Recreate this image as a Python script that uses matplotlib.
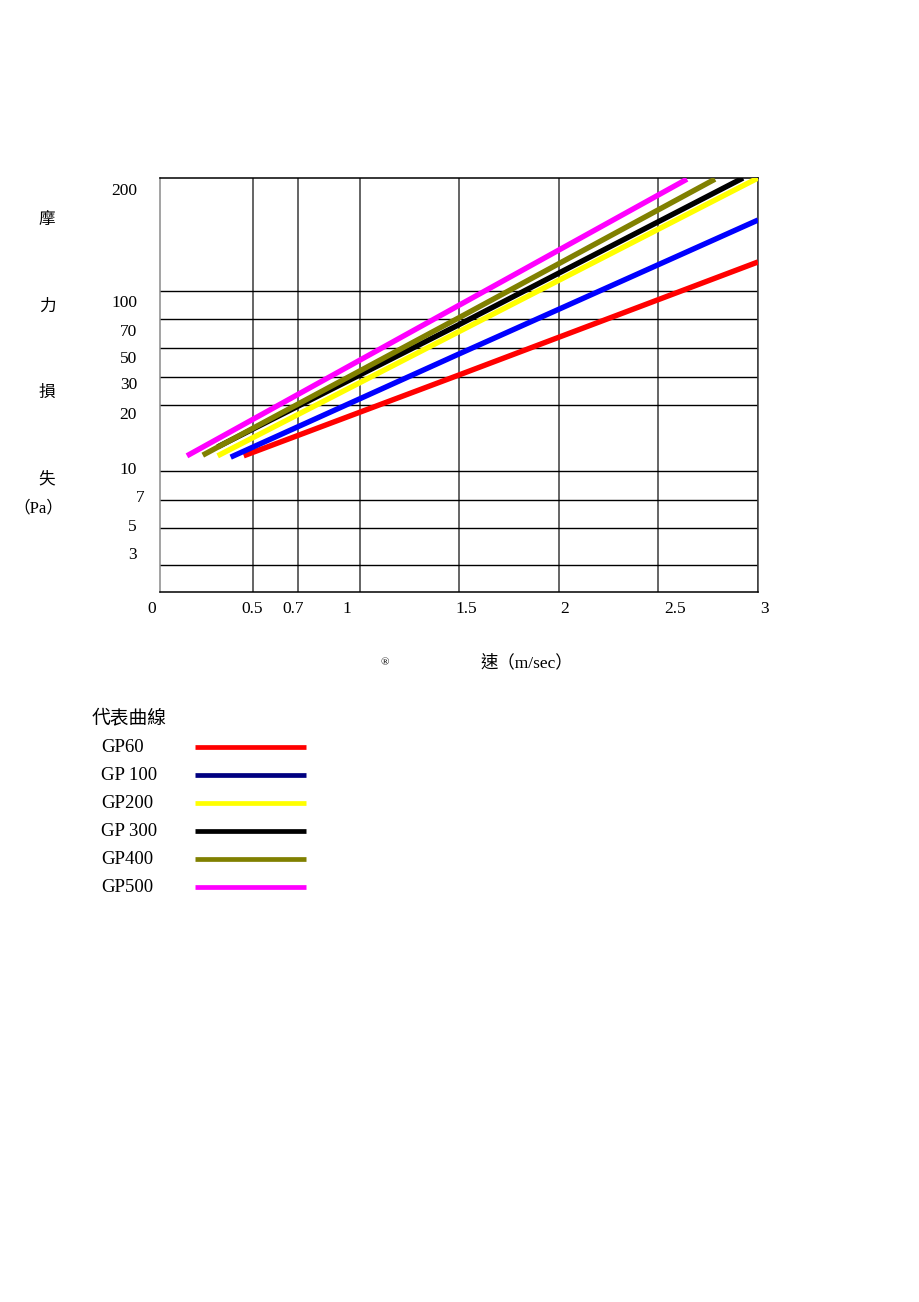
import numpy as np
import matplotlib
matplotlib.use('Agg')
import matplotlib.pyplot as plt
from matplotlib.transforms import blended_transform_factory, offset_copy
from matplotlib.lines import Line2D
from matplotlib.ticker import NullLocator

# 数据: 风速 (m/sec) 与 摩擦损失 (Pa)
series_names = ['GP60', 'GP 100', 'GP200', 'GP 300', 'GP400', 'GP500']
line_colors = ['#ff0000', '#0000ff', '#ffff00', '#000000', '#808000', '#ff00ff']
legend_colors = ['#ff0000', '#000080', '#ffff00', '#000000', '#808000', '#ff00ff']

gp60_v = [0.45, 1.5, 3.0]
gp60_pa = [12.3, 31.4, 125.7]
gp100_v = [0.38, 1.5, 3.0]
gp100_pa = [12.1, 45.9, 162.8]
gp200_v = [0.31, 1.5, 3.0]
gp200_pa = [12.3, 61.3, 200]
gp300_v = [0.31, 1.5, 2.925]
gp300_pa = [13.65, 66.1, 200]
gp400_v = [0.23, 1.5, 2.785]
gp400_pa = [12.4, 71.4, 199]
gp500_v = [0.145, 1.5, 2.645]
gp500_pa = [12.3, 84.7, 199]

series = [(gp60_v, gp60_pa), (gp100_v, gp100_pa), (gp200_v, gp200_pa),
          (gp300_v, gp300_pa), (gp400_v, gp400_pa), (gp500_v, gp500_pa)]

x_ticks = [0.5, 0.7, 1, 1.5, 2, 2.5, 3]
x_labels = ['0', '0.5', '0.7', '1', '1.5', '2', '2.5', '3']
x_label_vals = [0, 0.5, 0.7, 1, 1.5, 2, 2.5, 3]
y_ticks = [3, 5, 7, 10, 20, 30, 50, 70, 100]
y_labels = ['200', '100', '70', '50', '30', '20', '10', '7', '5', '3']
y_label_vals = [200, 100, 70, 50, 30, 20, 10, 7, 5, 3]

# 图上刻度不均匀, 用分段线性的坐标
x_knots = [0, 0.5, 0.7, 1, 1.5, 2, 2.5, 3]
x_knot_pos = [0, 93, 138, 200, 299, 399, 498, 598]
y_knots = [2, 3, 5, 7, 10, 20, 30, 50, 70, 100, 200]
y_knot_pos = [0, 27, 64, 92, 121, 187, 215, 244, 273, 301, 414]

fx = lambda v: np.interp(v, x_knots, x_knot_pos)
fx_inv = lambda p: np.interp(p, x_knot_pos, x_knots)
fy = lambda v: np.interp(v, y_knots, y_knot_pos)
fy_inv = lambda p: np.interp(p, y_knot_pos, y_knots)

W, H = 920, 1302
fig = plt.figure(figsize=(W / 100, H / 100), dpi=100)
ax = fig.add_axes([160 / W, 1 - 592 / H, 598 / W, 414 / H])
ax.set_xscale('function', functions=(fx, fx_inv))
ax.set_yscale('function', functions=(fy, fy_inv))
ax.set_xlim(0, 3)
ax.set_ylim(2, 200)

ax.set_xticks(x_ticks)
ax.set_yticks(y_ticks)
ax.xaxis.set_minor_locator(NullLocator())
ax.yaxis.set_minor_locator(NullLocator())
ax.tick_params(length=0, labelbottom=False, labelleft=False)
ax.xaxis.grid(True, color='#3a3a3a', lw=1.1)
ax.yaxis.grid(True, color='#000000', lw=1.0)
ax.set_axisbelow(True)
ax.spines['left'].set_color('#8a8a8a')
ax.spines['right'].set_color('#3a3a3a')
for s in ['top', 'bottom']:
    ax.spines[s].set_color('black')
for s in ax.spines.values():
    s.set_linewidth(1.1)

for i, (v, pa) in enumerate(series):
    ax.plot(v, pa, color=line_colors[i], lw=3.9, solid_capstyle='butt', zorder=3)

serif = ['Liberation Serif', 'Noto Sans CJK TC']
cjk = ['Noto Sans CJK TC', 'DejaVu Sans']

# x 刻度文字 (原图位置有些偏移)
x_dx = [-8, -1, -5, -13, 7, 6, 17, 7]
tx = blended_transform_factory(ax.transData, ax.transAxes)
for val, lab, dx in zip(x_label_vals, x_labels, x_dx):
    ax.text(val, 0, lab, transform=offset_copy(tx, fig, x=dx, y=-17, units='dots'),
            ha='center', va='center', fontsize=12.5, family=serif)

# y 刻度文字
y_dy = [13, 12, 13, 11, 8, 10, -1, -2, -1, -10]
y_dx = [-23, -23, -23, -23, -23, -23, -23, -15, -23, -23]
ty = blended_transform_factory(ax.transAxes, ax.transData)
for val, lab, dx, dy in zip(y_label_vals, y_labels, y_dx, y_dy):
    ax.text(0, val, lab, transform=offset_copy(ty, fig, x=dx, y=-dy, units='dots'),
            ha='right', va='center', fontsize=12.5, family=serif)

# 纵轴标题
for ch, yy in zip(['摩', '力', '損', '失'], [220, 306, 392, 479]):
    fig.text(47 / W, 1 - yy / H, ch, ha='center', va='center', fontsize=12, family=cjk)
fig.text(38 / W, 1 - 508 / H, '（Pa）', ha='center', va='center', fontsize=12, family=serif)

# 横轴标题
fig.text(385 / W, 1 - 663 / H, '®', ha='center', va='center', fontsize=8, family=serif)
fig.text(527 / W, 1 - 663 / H, '速（m/sec）', ha='center', va='center', fontsize=12.5, family=serif)

# 图例
fig.text(92 / W, 1 - 718 / H, '代表曲線', ha='left', va='center', fontsize=13.5, family=cjk)
for k, name in enumerate(series_names):
    yy = 1 - (747 + 28 * k) / H
    fig.text(101 / W, yy, name, ha='left', va='center', fontsize=13.5, family=serif)
    fig.add_artist(Line2D([195 / W, 306 / W], [yy, yy], color=legend_colors[k],
                          lw=3.4, solid_capstyle='butt'))

fig.savefig('out.png', dpi=100)
